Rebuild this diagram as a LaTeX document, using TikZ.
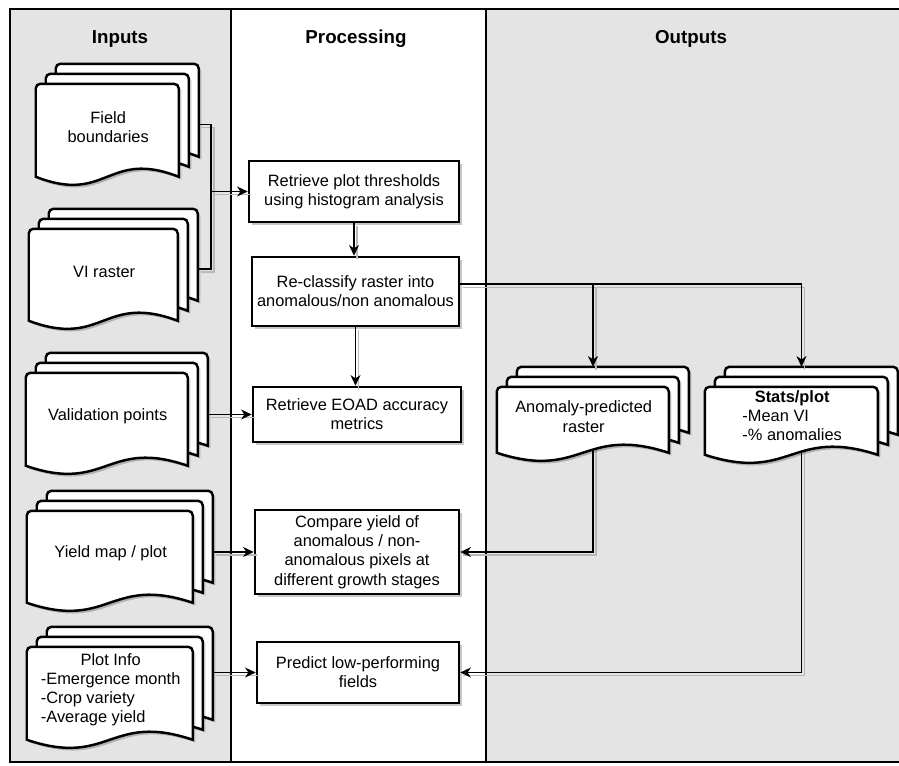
\documentclass[tikz,border=0pt]{standalone}
\usepackage{fontspec}
\setmainfont{Liberation Sans}
\usetikzlibrary{arrows.meta, calc, shadows}

\definecolor{lanegray}{HTML}{E4E4E4}
\definecolor{wireshadow}{HTML}{B8B8B8}

\pgfdeclarelayer{back}
\pgfdeclarelayer{wires}
\pgfdeclarelayer{pages}
\pgfsetlayers{back,wires,pages,main}

% stack of three pages: [label opts], name, centre, width, height, text
\newcommand{\docstack}[6][]{%
  \node[docs, minimum width=#4*0.3mm, minimum height=#5*0.3mm,
        label={[docs, xshift=-2.8mm, yshift=-0.8mm, #1]center:#6}] (#2) at #3 {};
  \begin{pgfonlayer}{pages}
    \foreach \k in {2,1,0} {
      \coordinate (pg) at ($(#2.north west)+(\k*10,20-\k*10)$);
      \draw[page] ($(pg)+(0,#5-28)$) [rounded corners=4pt] -- (pg) -- ($(pg)+(#4-20,0)$) -- ($(pg)+(#4-20,12)$) [sharp corners]
        -- ($(pg)+(#4-20,#5-28)$) .. controls ($(pg)+(#4/2-10,#5-56)$) and ($(pg)+(#4/2-10,#5)$) .. ($(pg)+(0,#5-28)$) -- cycle;
    }
  \end{pgfonlayer}}

\begin{document}
\begin{tikzpicture}[x=0.3mm, y=-0.3mm,
    font=\fontsize{14}{16.4}\selectfont,
    shade drop/.style={drop shadow={shadow xshift=0.8mm, shadow yshift=-0.8mm, fill=black, opacity=0.22}},
    box/.style={draw, line width=2.2pt, fill=white, align=center, inner sep=2pt, shade drop},
    page/.style={draw, line width=2.1pt, fill=white, shade drop},
    docs/.style={inner sep=0pt, align=center},
    head/.style={font=\fontsize{16}{19}\selectfont\bfseries},
    frame/.style={line width=1.4pt},
    line/.style={line width=1.2pt, preaction={draw=wireshadow, line width=1.1pt, -, transform canvas={xshift=0.9mm, yshift=-0.9mm}}},
    arrow/.style={line, -{Stealth[length=3.2mm, width=3mm, inset=1mm]}}
  ]
  \useasboundingbox (0,0) rectangle (899,765);

  % swim lanes
  \begin{pgfonlayer}{back}
    \fill[lanegray] (10,9) rectangle (231,762);
    \fill[lanegray] (486,9) rectangle (899,762);
    \draw[frame] (899,9) -- (10,9) -- (10,762) -- (899,762);
    \draw[frame] (231,9) -- (231,762);
    \draw[frame] (486,9) -- (486,762);
  \end{pgfonlayer}

  \node[head] (inhead) at (120,39) {Inputs};
  \node[head] (prochead) at (356,39) {Processing};
  \node[head] (outhead) at (691,39) {Outputs};

  % inputs
  \docstack{field}{(117.5,124.5)}{163}{121}{Field\\boundaries}
  \docstack{vi}{(113.5,269)}{169}{120}{VI raster}
  \docstack{valid}{(117,413.5)}{182}{121}{Validation points}
  \docstack{yield}{(120,551)}{186}{120}{Yield map / plot}
  \docstack{plotinfo}{(120,687.5)}{186}{121}{\begin{tabular}{@{}l@{}}\multicolumn{1}{@{}c@{}}{Plot Info}\\-Emergence month\\-Crop variety\\-Average yield\end{tabular}}

  % processing
  \node[box, minimum width=63mm, minimum height=18.3mm] (thresh) at (354,191.5) {Retrieve plot thresholds\\using histogram analysis};
  \node[box, minimum width=62.1mm, minimum height=20.7mm] (reclass) at (355.5,291.5) {Re-classify raster into\\anomalous/non anomalous};
  \node[box, minimum width=62.4mm, minimum height=16.5mm] (eoad) at (357,414.5) {Retrieve EOAD accuracy\\metrics};
  \node[box, minimum width=61.2mm, minimum height=25.2mm] (compare) at (357,552) {Compare yield of\\anomalous / non-\\anomalous pixels at\\different growth stages};
  \node[box, minimum width=60.6mm, minimum height=18.3mm] (predict) at (358,672.5) {Predict low-performing\\fields};

  % outputs
  \docstack{anomaly}{(593,414)}{192}{94}{Anomaly-predicted\\raster}
  \docstack{stats}{(801.5,415)}{193}{96}{\begin{tabular}{@{}l@{}}\multicolumn{1}{@{}c@{}}{\bfseries Stats/plot}\\-Mean VI\\-\% anomalies\end{tabular}}

  % connectors
  \coordinate (join) at (211,191.5);
  \draw[line] (field) -| (join);
  \draw[line] (vi) -| (join);
  \draw[arrow] (join) -- (thresh);
  \draw[arrow] (thresh.south) -- (thresh.south |- reclass.north);
  \draw[arrow] (reclass.south) -- (reclass.south |- eoad.north);
  \draw[arrow] ([yshift=2.2mm]reclass.east) -| (stats);
  \draw[arrow] ([yshift=2.2mm]reclass.east) -| (anomaly);
  \draw[arrow] (valid.east |- eoad) -- (eoad.west);
  \draw[arrow] (yield.east |- compare) -- (compare.west);
  \draw[arrow] (plotinfo.east |- predict) -- (predict.west);
  \begin{pgfonlayer}{wires}
    \draw[arrow] (anomaly.center) |- (compare);
    \draw[arrow] (stats.center) |- (predict);
  \end{pgfonlayer}
\end{tikzpicture}
\end{document}
